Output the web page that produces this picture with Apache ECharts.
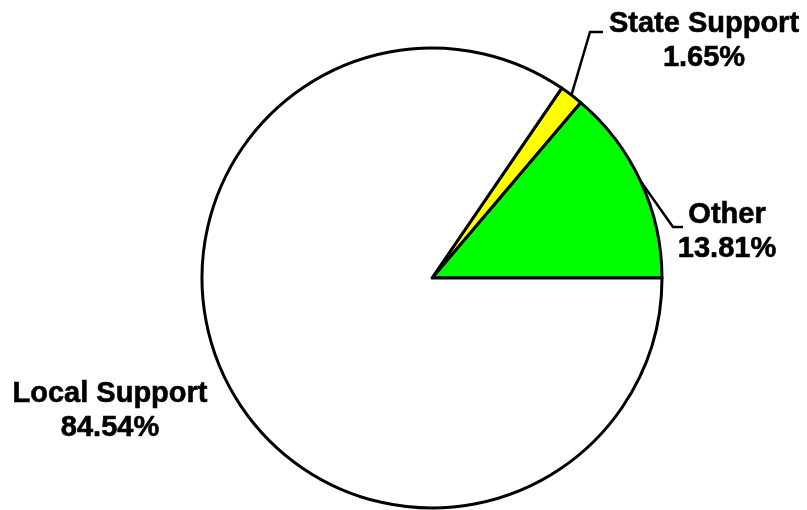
<!DOCTYPE html>
<html>
<head>
<meta charset="utf-8">
<script src="https://cdn.jsdelivr.net/npm/echarts@6/dist/echarts.min.js"></script>
<style>
  html, body { margin: 0; padding: 0; background: #ffffff; }
  #chart { width: 807px; height: 510px; }
</style>
</head>
<body>
<div id="chart"></div>
<script>
// Revenue sources, listed counter-clockwise from 3 o'clock
const categories = ['Other', 'State Support', 'Local Support'];
const shares = [13.81, 1.65, 84.54];
const sliceColors = ['#00ff00', '#ffff00', '#ffffff'];

// Where each label block sits, and the elbow of its leader line (null = no leader)
const labelSpots = [
  { x: 727, y: 232, elbow: [[673, 227], [683, 227]] },
  { x: 704, y: 41, elbow: [[590, 32], [603, 32]] },
  { x: 110, y: 411, elbow: null }
];

const chart = echarts.init(document.getElementById('chart'), null, { renderer: 'canvas' });

chart.setOption({
  backgroundColor: '#ffffff',
  animation: false,
  series: [{
    type: 'pie',
    center: [432, 278],
    radius: 230,
    startAngle: 0,
    clockwise: false,
    avoidLabelOverlap: false,
    itemStyle: { borderColor: '#000000', borderWidth: 3 },
    label: {
      show: true,
      position: 'outside',
      formatter: p => p.name + '\n' + p.value.toFixed(2) + '%',
      fontFamily: '"Liberation Sans", Arial, sans-serif',
      fontWeight: 'bold',
      fontSize: 29,
      lineHeight: 34,
      color: '#000000',
      textBorderColor: '#000000',
      textBorderWidth: 0.6,
      align: 'center'
    },
    labelLine: {
      show: true,
      lineStyle: { color: '#000000', width: 2.5 }
    },
    labelLayout: function (params) {
      const spot = labelSpots[params.dataIndex];
      const out = {
        x: spot.x,
        y: spot.y,
        align: 'center',
        verticalAlign: 'middle'
      };
      if (spot.elbow && params.labelLinePoints) {
        out.labelLinePoints = [params.labelLinePoints[0], spot.elbow[0], spot.elbow[1]];
      } else {
        out.labelLinePoints = null;
      }
      return out;
    },
    data: categories.map((name, i) => ({
      name: name,
      value: shares[i],
      itemStyle: { color: sliceColors[i] },
      labelLine: { show: labelSpots[i].elbow !== null }
    }))
  }]
});
</script>
</body>
</html>
